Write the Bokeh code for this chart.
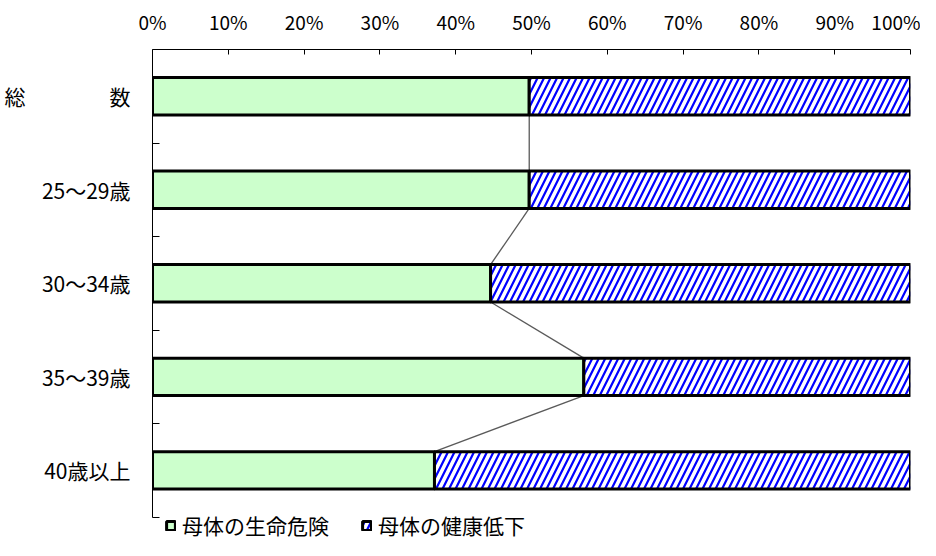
from bokeh.plotting import figure
from bokeh.models import Range1d, FixedTicker, Legend, LegendItem
from bokeh.embed import file_html
from bokeh.resources import INLINE

# ---- data ----
categories = ["総　　　　数", "25～29歳", "30～34歳", "35～39歳", "40歳以上"]
life_risk = [49.7, 49.7, 44.6, 56.9, 37.2]        # 母体の生命危険 (%)
health_decline = [50.3, 50.3, 55.4, 43.1, 62.8]   # 母体の健康低下 (%)
series_names = ["母体の生命危険", "母体の健康低下"]
x_ticks = [0, 10, 20, 30, 40, 50, 60, 70, 80, 90, 100]
x_tick_labels = ["0%", "10%", "20%", "30%", "40%", "50%", "60%", "70%", "80%", "90%", "100%"]

FONT = "Noto Sans CJK JP"

n = len(categories)
ys = [i + 0.5 for i in range(n)]
totals = [a + b for a, b in zip(life_risk, health_decline)]
bar_h = 0.4

# frame extends below the last band to make room for the legend;
# the y axis itself is bounded to the category bands
p = figure(width=920, height=540, output_backend="svg", toolbar_location=None,
           x_range=Range1d(0, 100), y_range=Range1d(n + 0.25, 0),
           x_axis_location="above",
           min_border_left=152, min_border_right=10, min_border_top=49, min_border_bottom=0)

p.grid.visible = False
p.outline_line_color = None
p.background_fill_color = "white"

# connector lines between boundaries
p.segment(x0=life_risk[:-1], y0=[y + bar_h / 2 for y in ys[:-1]],
          x1=life_risk[1:], y1=[y - bar_h / 2 for y in ys[1:]],
          line_color="#5a5a5a", line_width=1.3)

green = p.hbar(y=ys, left=0, right=life_risk, height=bar_h,
               fill_color="#CCFFCC", line_color="black", line_width=3)
blue = p.hbar(y=ys, left=life_risk, right=totals, height=bar_h,
              fill_color="white", line_color="black", line_width=3,
              hatch_pattern="/", hatch_color="#0000FF", hatch_scale=13, hatch_weight=2.2)

# x axis (top)
xa = p.xaxis[0]
xa.ticker = FixedTicker(ticks=x_ticks)
xa.major_label_overrides = {t: l for t, l in zip(x_ticks, x_tick_labels)}
xa.major_tick_in = 5
xa.major_tick_out = 0
xa.minor_tick_line_color = None
xa.axis_line_color = "black"
xa.major_tick_line_color = "black"
xa.major_label_text_font = FONT
xa.major_label_text_font_size = "19px"
xa.major_label_text_color = "black"
xa.major_label_standoff = 15

# y axis (left)
ya = p.yaxis[0]
ya.bounds = (0, n)
ya.ticker = FixedTicker(ticks=ys, minor_ticks=[i + 1 for i in range(n)])
ya.major_label_overrides = {y: c for y, c in zip(ys, categories)}
ya.major_tick_in = 0
ya.major_tick_out = 0
ya.minor_tick_in = 7
ya.minor_tick_out = 0
ya.minor_tick_line_color = "black"
ya.axis_line_color = "black"
ya.major_label_text_font = FONT
ya.major_label_text_font_size = "21px"
ya.major_label_text_color = "black"
ya.major_label_standoff = 22

legend = Legend(items=[LegendItem(label=series_names[0], renderers=[green]),
                       LegendItem(label=series_names[1], renderers=[blue])],
                orientation="horizontal", location=(13, 0),
                border_line_color=None, background_fill_alpha=0,
                padding=0, margin=0, spacing=32, label_standoff=6,
                glyph_width=11, glyph_height=11, label_height=22,
                label_text_font=FONT, label_text_font_size="21px",
                label_text_color="black")
p.add_layout(legend)

open("out.html", "w").write(file_html(p, INLINE))
